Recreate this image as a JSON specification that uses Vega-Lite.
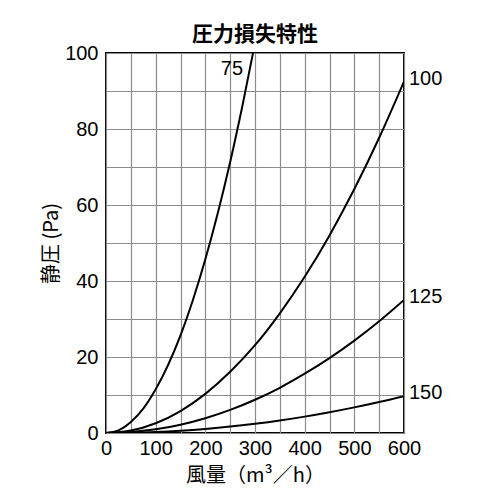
{
  "$schema": "https://vega.github.io/schema/vega-lite/v6.json",
  "width": 298,
  "height": 380,
  "autosize": "none",
  "padding": {"left": 106, "top": 53, "right": 96, "bottom": 67},
  "title": {
    "text": "圧力損失特性",
    "font": "Noto Sans CJK JP",
    "fontSize": 21,
    "fontWeight": "bold",
    "color": "black",
    "anchor": "middle",
    "baseline": "alphabetic",
    "offset": 12,
    "dy": 31
  },
  "datasets": {
    "curves": [
      {"pipe": "75", "airflow": 0, "pressure": 0},
      {"pipe": "75", "airflow": 25, "pressure": 0.7},
      {"pipe": "75", "airflow": 50, "pressure": 2.9},
      {"pipe": "75", "airflow": 75, "pressure": 6.4},
      {"pipe": "75", "airflow": 100, "pressure": 11.5},
      {"pipe": "75", "airflow": 125, "pressure": 17.9},
      {"pipe": "75", "airflow": 150, "pressure": 25.7},
      {"pipe": "75", "airflow": 175, "pressure": 35.0},
      {"pipe": "75", "airflow": 200, "pressure": 45.7},
      {"pipe": "75", "airflow": 225, "pressure": 57.8},
      {"pipe": "75", "airflow": 250, "pressure": 71.3},
      {"pipe": "75", "airflow": 275, "pressure": 86.3},
      {"pipe": "75", "airflow": 296, "pressure": 100},
      {"pipe": "100", "airflow": 0, "pressure": 0},
      {"pipe": "100", "airflow": 50, "pressure": 0.64},
      {"pipe": "100", "airflow": 100, "pressure": 2.57},
      {"pipe": "100", "airflow": 150, "pressure": 5.78},
      {"pipe": "100", "airflow": 200, "pressure": 10.3},
      {"pipe": "100", "airflow": 250, "pressure": 16.1},
      {"pipe": "100", "airflow": 300, "pressure": 23.1},
      {"pipe": "100", "airflow": 350, "pressure": 31.5},
      {"pipe": "100", "airflow": 400, "pressure": 41.1},
      {"pipe": "100", "airflow": 450, "pressure": 52.0},
      {"pipe": "100", "airflow": 500, "pressure": 64.2},
      {"pipe": "100", "airflow": 550, "pressure": 77.7},
      {"pipe": "100", "airflow": 600, "pressure": 92.5},
      {"pipe": "125", "airflow": 0, "pressure": 0},
      {"pipe": "125", "airflow": 50, "pressure": 0.24},
      {"pipe": "125", "airflow": 100, "pressure": 0.97},
      {"pipe": "125", "airflow": 150, "pressure": 2.19},
      {"pipe": "125", "airflow": 200, "pressure": 3.89},
      {"pipe": "125", "airflow": 250, "pressure": 6.08},
      {"pipe": "125", "airflow": 300, "pressure": 8.75},
      {"pipe": "125", "airflow": 350, "pressure": 11.9},
      {"pipe": "125", "airflow": 400, "pressure": 15.6},
      {"pipe": "125", "airflow": 450, "pressure": 19.7},
      {"pipe": "125", "airflow": 500, "pressure": 24.3},
      {"pipe": "125", "airflow": 550, "pressure": 29.4},
      {"pipe": "125", "airflow": 600, "pressure": 35.0},
      {"pipe": "150", "airflow": 0, "pressure": 0},
      {"pipe": "150", "airflow": 50, "pressure": 0.07},
      {"pipe": "150", "airflow": 100, "pressure": 0.27},
      {"pipe": "150", "airflow": 150, "pressure": 0.61},
      {"pipe": "150", "airflow": 200, "pressure": 1.08},
      {"pipe": "150", "airflow": 250, "pressure": 1.68},
      {"pipe": "150", "airflow": 300, "pressure": 2.43},
      {"pipe": "150", "airflow": 350, "pressure": 3.3},
      {"pipe": "150", "airflow": 400, "pressure": 4.31},
      {"pipe": "150", "airflow": 450, "pressure": 5.46},
      {"pipe": "150", "airflow": 500, "pressure": 6.74},
      {"pipe": "150", "airflow": 550, "pressure": 8.15},
      {"pipe": "150", "airflow": 600, "pressure": 9.7}
    ],
    "labels": [
      {"pipe": "75", "airflow": 296, "pressure": 100},
      {"pipe": "100", "airflow": 600, "pressure": 92.5},
      {"pipe": "125", "airflow": 600, "pressure": 35.0},
      {"pipe": "150", "airflow": 600, "pressure": 9.7}
    ]
  },
  "encoding": {
    "x": {
      "field": "airflow",
      "type": "quantitative",
      "title": "風量（m³／h）",
      "scale": {"domain": [0, 600], "nice": false, "zero": true},
      "axis": {
        "values": [0, 50, 100, 150, 200, 250, 300, 350, 400, 450, 500, 550, 600],
        "labelExpr": "datum.value % 100 === 0 ? datum.label : ''",
        "labelPadding": 5,
        "titlePadding": 7
      }
    },
    "y": {
      "field": "pressure",
      "type": "quantitative",
      "title": "静圧 (Pa)",
      "scale": {"domain": [0, 100], "nice": false},
      "axis": {
        "values": [0, 10, 20, 30, 40, 50, 60, 70, 80, 90, 100],
        "labelExpr": "datum.value % 20 === 0 ? datum.label : ''",
        "labelPadding": 8,
        "titlePadding": 3
      }
    }
  },
  "layer": [
    {
      "data": {"name": "curves"},
      "mark": {"type": "line", "interpolate": "monotone", "color": "black", "strokeWidth": 2, "clip": true},
      "encoding": {
        "detail": {"field": "pipe", "type": "nominal"}
      }
    },
    {
      "data": {"name": "labels"},
      "transform": [{"filter": "datum.pipe != '75'"}],
      "mark": {"type": "text", "align": "left", "baseline": "middle", "dx": 5, "dy": -3, "font": "Liberation Sans", "fontSize": 20, "color": "black"},
      "encoding": {
        "text": {"field": "pipe", "type": "nominal"}
      }
    },
    {
      "data": {"name": "labels"},
      "transform": [{"filter": "datum.pipe == '75'"}],
      "mark": {"type": "text", "align": "right", "baseline": "middle", "dx": -10, "dy": 16, "font": "Liberation Sans", "fontSize": 20, "color": "black"},
      "encoding": {
        "text": {"field": "pipe", "type": "nominal"}
      }
    }
  ],
  "config": {
    "background": "white",
    "view": {"stroke": "black", "strokeWidth": 2},
    "axis": {
      "grid": true,
      "gridColor": "#8c8c8c",
      "gridWidth": 1.2,
      "gridOpacity": 1,
      "ticks": false,
      "domain": false,
      "labelFont": "Liberation Sans",
      "labelFontSize": 20,
      "labelColor": "black",
      "labelFlush": false,
      "labelOverlap": false,
      "titleFont": "Noto Sans CJK JP",
      "titleFontSize": 20,
      "titleFontWeight": "normal",
      "titleColor": "black"
    }
  }
}
